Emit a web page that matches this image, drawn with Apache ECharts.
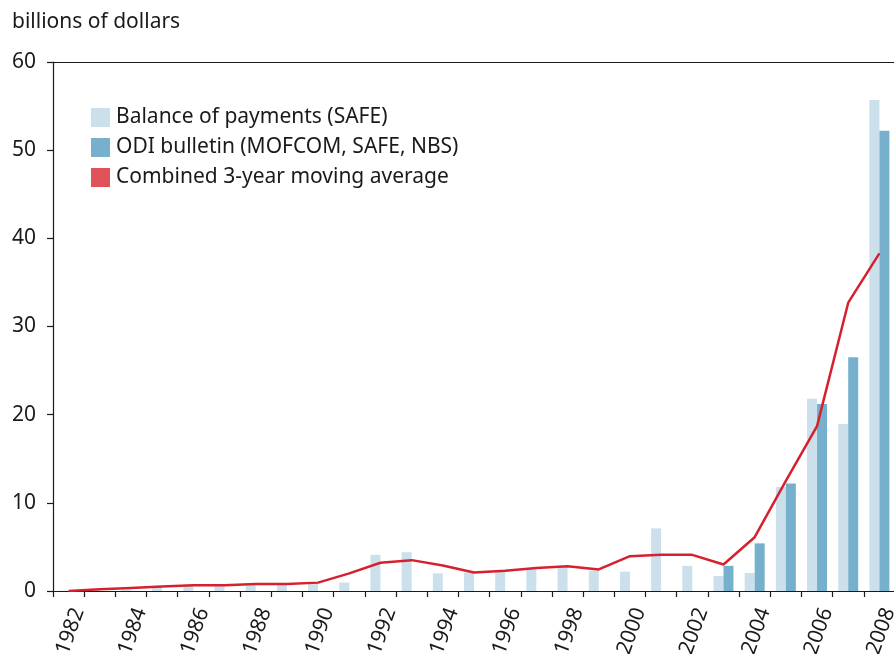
<!DOCTYPE html>
<html>
<head>
<meta charset="utf-8">
<script src="https://cdn.jsdelivr.net/npm/echarts@6/dist/echarts.min.js"></script>
<style>
  html, body { margin: 0; padding: 0; background: #fff; }
  #main { width: 894px; height: 654px; }
</style>
</head>
<body>
<div id="main"></div>
<script>
// 年份
var years = ['1982', '1983', '1984', '1985', '1986', '1987', '1988', '1989', '1990',
    '1991', '1992', '1993', '1994', '1995', '1996', '1997', '1998', '1999', '2000',
    '2001', '2002', '2003', '2004', '2005', '2006', '2007', '2008'];

// Balance of payments (SAFE)
var safeValues = [0.05, 0.1, 0.15, 0.6, 0.7, 0.7, 0.9, 0.9, 1.0,
    0.95, 4.1, 4.4, 2.0, 2.1, 2.2, 2.5, 2.7, 2.3, 2.2,
    7.1, 2.85, 1.7, 2.05, 11.8, 21.8, 18.95, 55.7];

// ODI bulletin (MOFCOM, SAFE, NBS)
var odiValues = [null, null, null, null, null, null, null, null, null,
    null, null, null, null, null, null, null, null, null, null,
    null, null, 2.85, 5.4, 12.2, 21.2, 26.5, 52.2];

// Combined 3-year moving average
var avgValues = [0, 0.2, 0.35, 0.5, 0.65, 0.65, 0.8, 0.8, 0.95,
    2.0, 3.2, 3.5, 2.9, 2.1, 2.3, 2.6, 2.8, 2.45, 3.95,
    4.1, 4.1, 3.0, 6.1, 12.5, 18.7, 32.7, 38.3];

var yTicks = [0, 10, 20, 30, 40, 50, 60];

var fontName = 'Noto Sans';
var myChart = echarts.init(document.getElementById('main'));

var option = {
    animation: false,
    textStyle: { fontFamily: fontName, color: '#1a1a1a' },
    title: {
        text: 'billions of dollars',
        left: 7,
        top: 7,
        textStyle: { fontFamily: fontName, fontSize: 21, fontWeight: 'normal', color: '#1a1a1a' }
    },
    legend: {
        orient: 'vertical',
        left: 86,
        top: 102,
        itemWidth: 19,
        itemHeight: 19,
        itemGap: 9,
        icon: 'rect',
        textStyle: { fontFamily: fontName, fontSize: 21, color: '#1a1a1a', padding: [0, 0, 0, 1] },
        data: [
            { name: 'Balance of payments (SAFE)' },
            { name: 'ODI bulletin (MOFCOM, SAFE, NBS)' },
            { name: 'Combined 3-year moving average', itemStyle: { color: '#e0525a' } }
        ]
    },
    // 标签可以超出画布，不缩小绘图区
    grid: { left: 53, top: 62, width: 842, bottom: 63, containLabel: false, outerBoundsMode: 'none' },
    xAxis: [{
        type: 'category',
        data: years,
        axisLine: { lineStyle: { color: '#1a1a1a', width: 1.2 } },
        // 每个年份之间都有刻度
        axisTick: { show: true, interval: 0, length: 6, lineStyle: { color: '#1a1a1a', width: 1.2 } },
        axisLabel: {
            interval: 1,
            rotate: 70,
            fontSize: 21,
            color: '#1a1a1a',
            verticalAlign: 'top',
            margin: 14
        }
    }, {
        type: 'category',
        position: 'top',
        data: years,
        axisLine: { lineStyle: { color: '#1a1a1a', width: 1.2 } },
        axisTick: { show: false },
        axisLabel: { show: false }
    }],
    yAxis: {
        type: 'value',
        min: yTicks[0],
        max: yTicks[yTicks.length - 1],
        interval: 10,
        splitLine: { show: false },
        axisLine: { show: true, lineStyle: { color: '#1a1a1a', width: 1.2 } },
        axisTick: { show: true, length: 6, lineStyle: { color: '#1a1a1a', width: 1.2 } },
        axisLabel: { fontSize: 21, color: '#1a1a1a', margin: 17 }
    },
    series: [{
        name: 'Balance of payments (SAFE)',
        type: 'bar',
        data: safeValues,
        barWidth: 10,
        barGap: '0%',
        itemStyle: { color: '#cce0eb' }
    }, {
        name: 'ODI bulletin (MOFCOM, SAFE, NBS)',
        type: 'bar',
        data: odiValues,
        barWidth: 10,
        barGap: '0%',
        itemStyle: { color: '#77b0cc' }
    }, {
        name: 'Combined 3-year moving average',
        type: 'line',
        data: avgValues,
        symbol: 'none',
        lineStyle: { color: '#d7202e', width: 2.5 },
        itemStyle: { color: '#d7202e' },
        z: 5
    }]
};

myChart.setOption(option);

window.addEventListener('resize', function () {
    myChart.resize();
});
</script>
</body>
</html>
